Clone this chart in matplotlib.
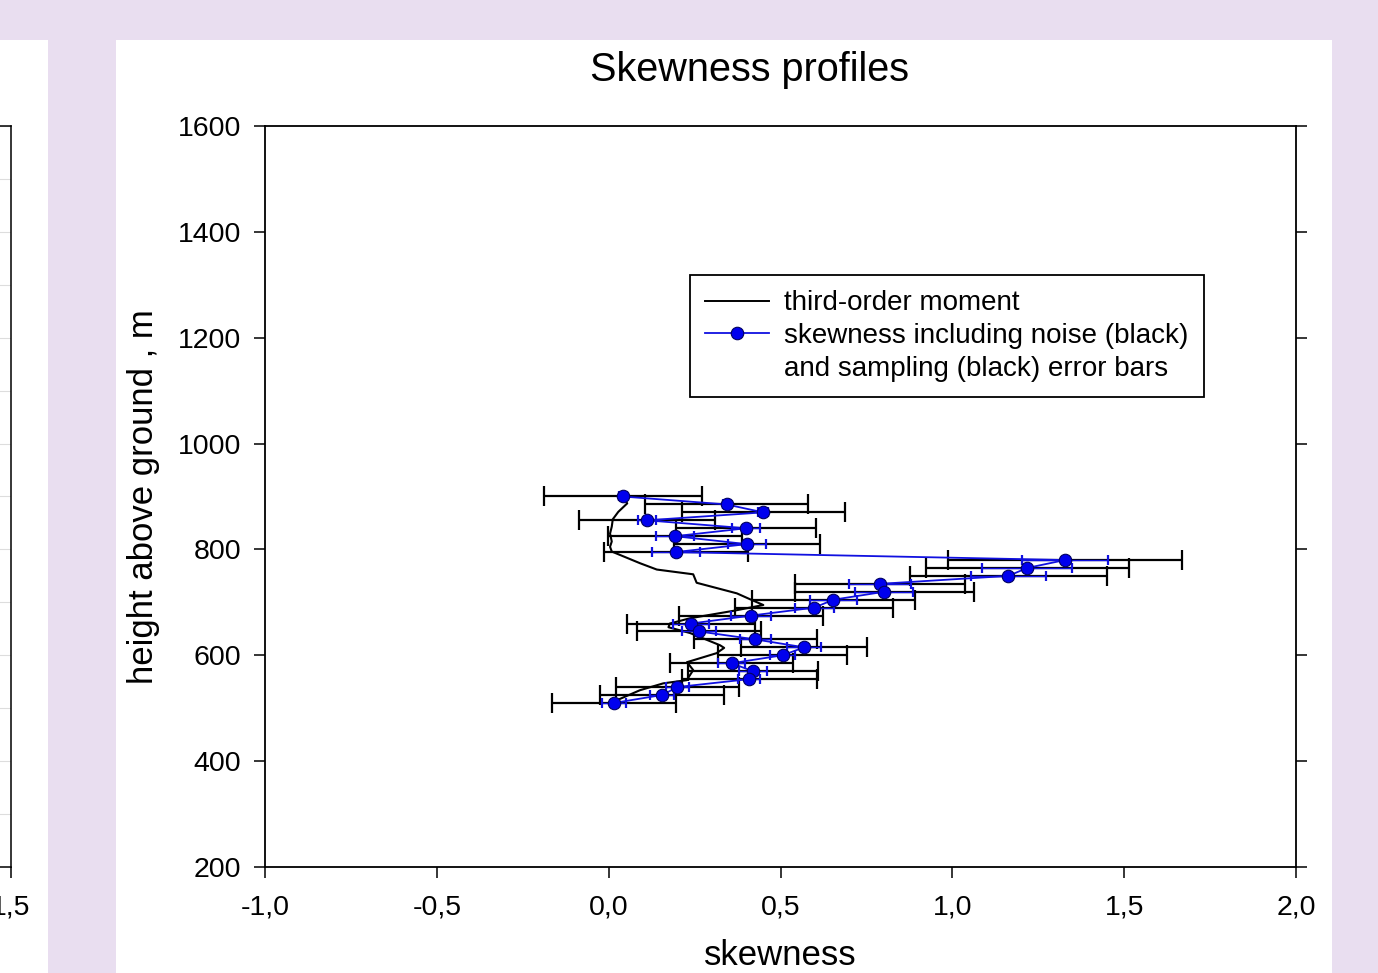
import matplotlib
matplotlib.use("Agg")
import matplotlib.pyplot as plt
from matplotlib.lines import Line2D
from matplotlib.patches import Rectangle

plt.rcParams['font.family'] = ['Liberation Sans', 'DejaVu Sans']

# ---------------- data ----------------
heights = [900, 885, 870, 855, 840, 825, 810, 795, 780, 765, 750, 735, 720, 705,
           690, 675, 660, 645, 630, 615, 600, 585, 570, 555, 540, 525, 510]
skewness = [0.041, 0.343, 0.450, 0.111, 0.400, 0.193, 0.402, 0.195, 1.328, 1.218,
            1.163, 0.790, 0.802, 0.654, 0.598, 0.414, 0.240, 0.263, 0.427, 0.569,
            0.506, 0.358, 0.419, 0.409, 0.200, 0.156, 0.016]
sampling_err = [0.230, 0.236, 0.237, 0.198, 0.204, 0.194, 0.213, 0.210, 0.341, 0.296,
                0.286, 0.248, 0.260, 0.236, 0.230, 0.210, 0.187, 0.181, 0.178, 0.183,
                0.187, 0.179, 0.189, 0.196, 0.180, 0.180, 0.180]
noise_err = [0.012, 0.009, 0.015, 0.026, 0.041, 0.055, 0.055, 0.070, 0.124, 0.131,
             0.110, 0.091, 0.085, 0.069, 0.057, 0.057, 0.053, 0.049, 0.044, 0.049,
             0.036, 0.040, 0.041, 0.032, 0.034, 0.035, 0.034]

moment_x = [0.041, 0.054, 0.028, 0.012, 0.009, 0.004, 0.009, 0.004, 0.009, 0.091,
            0.140, 0.246, 0.256, 0.373, 0.411, 0.450, 0.363, 0.237, 0.178, 0.174,
            0.237, 0.324, 0.336, 0.314, 0.228, 0.246, 0.227, 0.159, 0.091, 0.013]
moment_h = [901, 887, 871, 857, 843, 830, 815, 805, 796, 774,
            762, 753, 737, 717, 706, 695, 684, 670, 660, 653,
            642, 619, 614, 604, 587, 572, 553, 547, 534, 512]

x_ticks = [-1.0, -0.5, 0.0, 0.5, 1.0, 1.5, 2.0]
x_tick_labels = ["-1,0", "-0,5", "0,0", "0,5", "1,0", "1,5", "2,0"]
y_ticks = [200, 400, 600, 800, 1000, 1200, 1400, 1600]
y_tick_labels = ["200", "400", "600", "800", "1000", "1200", "1400", "1600"]

title = "Skewness profiles"
xlabel = "skewness"
ylabel = "height above ground , m"
legend_labels = ["third-order moment",
                 "skewness including noise (black)",
                 "and sampling (black) error bars"]

# ---------------- figure ----------------
W, H = 1378, 973
fig = plt.figure(figsize=(W / 100, H / 100), dpi=100)
fig.patch.set_facecolor('#E9DEF0')

def fx(px):
    return px / W

def fy(py):
    return 1 - py / H

# white panels (behind the axes)
fig.patches.append(Rectangle((fx(116), 0), fx(1332) - fx(116), fy(40), transform=fig.transFigure,
                             facecolor='white', edgecolor='none', zorder=-10))
fig.patches.append(Rectangle((0, 0), fx(48), fy(40), transform=fig.transFigure,
                             facecolor='white', edgecolor='none', zorder=-10))

# partial left panel axes (only its right edge visible)
axl = fig.add_axes([fx(-400), fy(867), fx(411), fy(126) - fy(867)])
axl.set_xlim(-1.0, 1.5)
axl.set_ylim(200, 1600)
axl.set_xticks([1.5])
axl.set_xticklabels(["1,5"])
axl.set_yticks(list(range(200, 1601, 100)))
axl.set_yticklabels([])
axl.grid(axis='y', color='#DDDDDD', linewidth=0.8)
axl.tick_params(axis='y', length=0)
axl.tick_params(axis='x', direction='out', length=8, width=1.1, labelsize=20.5, pad=12)
axl.set_facecolor('white')
for s in axl.spines.values():
    s.set_linewidth(1.1)

# main axes
ax = fig.add_axes([fx(265), fy(867), fx(1296) - fx(265), fy(126) - fy(867)])
ax.set_xlim(-1.0, 2.0)
ax.set_ylim(200, 1600)
ax.set_facecolor('white')

# sampling error bars (black)
ax.errorbar(skewness, heights, xerr=sampling_err, fmt='none', ecolor='black',
            elinewidth=1.6, capsize=7, capthick=1.6, zorder=2)
# third-order moment line
ax.plot(moment_x, moment_h, color='black', linewidth=1.5, zorder=3)
# noise error bars (blue)
ax.errorbar(skewness, heights, xerr=noise_err, fmt='none', ecolor='#1010E0',
            elinewidth=1.0, capsize=3.5, capthick=1.6, zorder=4)
# skewness line with markers
ax.plot(skewness, heights, color='#1010E0', linewidth=1.3, marker='o', markersize=9,
        markerfacecolor='#0000EE', markeredgecolor='#000060', markeredgewidth=0.8, zorder=5)

ax.set_xticks(x_ticks)
ax.set_xticklabels(x_tick_labels)
ax.set_yticks(y_ticks)
ax.set_yticklabels(y_tick_labels)
ax.tick_params(axis='x', direction='out', length=8, width=1.1, labelsize=20.5, pad=12,
               top=False, bottom=True)
ax.tick_params(axis='y', direction='out', length=8, width=1.1, labelsize=20.5, pad=9,
               left=True, right=True)
for s in ax.spines.values():
    s.set_linewidth(1.3)

ax.set_xlabel(xlabel, fontsize=25)
ax.xaxis.set_label_coords(0.5, -0.119)
ax.xaxis.label.set_va('center')
ax.set_ylabel(ylabel, fontsize=25)
ax.yaxis.set_label_coords(-0.118, 0.5)
ax.yaxis.label.set_va('center')

fig.text(fx(750), fy(70), title, fontsize=28.5, ha='center', va='center')

# legend
handles = [Line2D([], [], color='black', linewidth=1.4),
           Line2D([], [], color='#1010E0', linewidth=1.3, marker='o', markersize=9,
                  markerfacecolor='#0000EE', markeredgecolor='#000060', markeredgewidth=0.8),
           Line2D([], [], color='none')]
leg = ax.legend(handles, legend_labels, loc='upper left',
                bbox_to_anchor=(fx(690), fy(275)), bbox_transform=fig.transFigure,
                fontsize=20, frameon=True, fancybox=False, shadow=False, framealpha=1,
                borderaxespad=0, borderpad=0.55, labelspacing=0.25, handlelength=2.3,
                handletextpad=0.55)
leg.get_frame().set_edgecolor('black')
leg.get_frame().set_linewidth(1.3)

fig.savefig('out.png', dpi=100, facecolor=fig.get_facecolor())
